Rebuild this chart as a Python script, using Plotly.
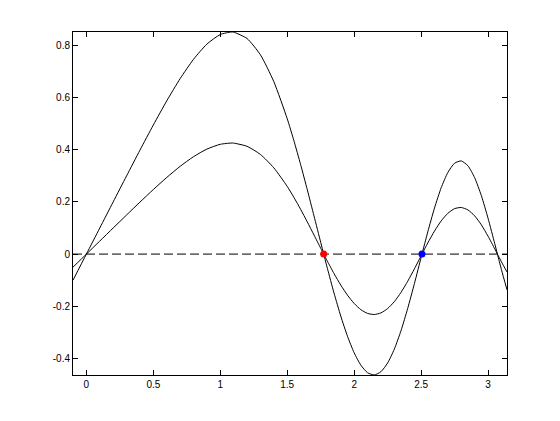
import plotly.graph_objects as go

# Curve samples (outer curve) and inner curve (half height)
x_vals = [-0.1, 0.0, 0.1, 0.2, 0.3, 0.4, 0.5, 0.6, 0.7, 0.8, 0.9, 1.0, 1.08, 1.1, 1.2,
          1.3, 1.4, 1.5, 1.55, 1.6, 1.65, 1.7, 1.75, 1.7725, 1.8, 1.85, 1.9, 1.95, 2.0,
          2.05, 2.1, 2.15, 2.2, 2.25, 2.3, 2.35, 2.4, 2.45, 2.5, 2.5066, 2.55, 2.6, 2.65,
          2.7, 2.75, 2.8, 2.85, 2.9, 2.95, 3.0, 3.05, 3.07, 3.1, 3.1416]
outer_vals = [-0.1000, 0.0, 0.1000, 0.2000, 0.2996, 0.3983, 0.4948, 0.5871, 0.6723, 0.7465,
              0.8048, 0.8415, 0.8512, 0.8506, 0.8262, 0.7636, 0.6609, 0.5187, 0.4346, 0.3434,
              0.2466, 0.1464, 0.0452, 0.0, -0.0546, -0.1499, -0.2376, -0.3148, -0.3784,
              -0.4257, -0.4546, -0.4632, -0.4508, -0.4175, -0.3643, -0.2934, -0.2082, -0.1131,
              -0.0133, 0.0, 0.0853, 0.1765, 0.2543, 0.3130, 0.3483, 0.3571, 0.3383, 0.2929,
              0.2241, 0.1374, 0.0400, 0.0, -0.0594, -0.1370]
inner_vals = [-0.0500, 0.0, 0.0500, 0.1000, 0.1498, 0.1992, 0.2474, 0.2936, 0.3362, 0.3733,
              0.4024, 0.4208, 0.4256, 0.4253, 0.4131, 0.3818, 0.3305, 0.2594, 0.2173, 0.1717,
              0.1233, 0.0732, 0.0226, 0.0, -0.0273, -0.0750, -0.1188, -0.1574, -0.1892,
              -0.2129, -0.2273, -0.2316, -0.2254, -0.2088, -0.1822, -0.1467, -0.1041, -0.0566,
              -0.0067, 0.0, 0.0427, 0.0883, 0.1272, 0.1565, 0.1742, 0.1786, 0.1692, 0.1465,
              0.1121, 0.0687, 0.0200, 0.0, -0.0297, -0.0685]
zero_line_x = [-0.1, 3.1416]
zero_line_y = [0.0, 0.0]
red_point = (1.7725, 0.0)
blue_point = (2.5066, 0.0)

x_ticks = [0, 0.5, 1, 1.5, 2, 2.5, 3]
x_tick_text = ["0", "0.5", "1", "1.5", "2", "2.5", "3"]
y_ticks = [-0.4, -0.2, 0, 0.2, 0.4, 0.6, 0.8]
y_tick_text = ["-0.4", "-0.2", "0", "0.2", "0.4", "0.6", "0.8"]

fig = go.Figure()
fig.add_trace(go.Scatter(x=x_vals, y=outer_vals, mode="lines",
                         line=dict(color="black", width=1, shape="spline", smoothing=0.6),
                         showlegend=False, hoverinfo="skip"))
fig.add_trace(go.Scatter(x=x_vals, y=inner_vals, mode="lines",
                         line=dict(color="black", width=1, shape="spline", smoothing=0.6),
                         showlegend=False, hoverinfo="skip"))
fig.add_trace(go.Scatter(x=zero_line_x, y=zero_line_y, mode="lines",
                         line=dict(color="black", width=1, dash="9px,4px"),
                         showlegend=False, hoverinfo="skip"))
fig.add_trace(go.Scatter(x=[red_point[0]], y=[red_point[1]], mode="markers",
                         marker=dict(color="#ff0000", size=7),
                         showlegend=False))
fig.add_trace(go.Scatter(x=[blue_point[0]], y=[blue_point[1]], mode="markers",
                         marker=dict(color="#0000ff", size=7),
                         showlegend=False))

axis_common = dict(showgrid=False, zeroline=False, showline=True, linecolor="black",
                   linewidth=1, mirror="ticks", ticks="inside", ticklen=5,
                   tickcolor="black",
                   tickfont=dict(family="Liberation Sans, Arial", size=10, color="black"))

fig.update_layout(
    width=552, height=413,
    margin=dict(l=65, r=53, t=24, b=46),
    paper_bgcolor="white", plot_bgcolor="white",
    xaxis=dict(range=[-0.1, 3.1416], tickvals=x_ticks, ticktext=x_tick_text, **axis_common),
    yaxis=dict(range=[-0.4634, 0.8512], tickvals=y_ticks, ticktext=y_tick_text, **axis_common),
)

fig.write_html("out.html")
